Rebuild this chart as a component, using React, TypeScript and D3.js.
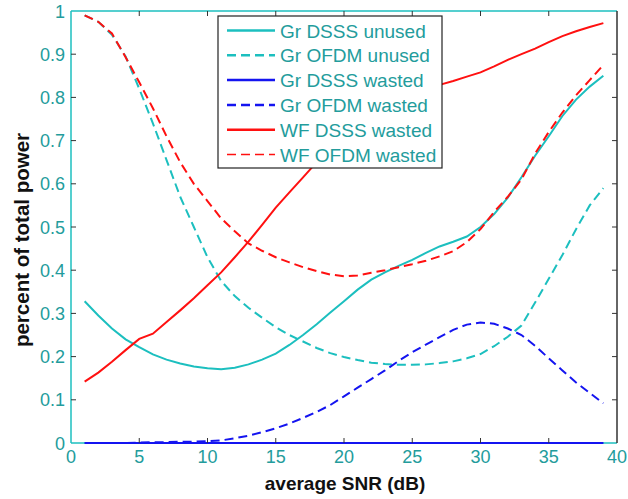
import React from "react";
import * as d3 from "d3";

const snr = d3.range(1, 40); // 1..39 dB
const grDsssUnused = [0.328, 0.295, 0.265, 0.24, 0.222, 0.205, 0.193, 0.184, 0.177, 0.173, 0.171, 0.174, 0.182, 0.193, 0.207, 0.227, 0.25, 0.275, 0.302, 0.328, 0.355, 0.378, 0.395, 0.41, 0.424, 0.44, 0.455, 0.466, 0.478, 0.5, 0.53, 0.568, 0.615, 0.665, 0.71, 0.757, 0.795, 0.825, 0.85];
const grOfdmUnused = [0.99, 0.975, 0.945, 0.895, 0.82, 0.74, 0.655, 0.57, 0.5, 0.43, 0.375, 0.34, 0.313, 0.29, 0.268, 0.25, 0.235, 0.22, 0.208, 0.199, 0.192, 0.186, 0.183, 0.181, 0.181, 0.182, 0.185, 0.189, 0.196, 0.206, 0.224, 0.246, 0.272, 0.325, 0.38, 0.435, 0.495, 0.55, 0.59];
const grDsssWasted = snr.map(() => 0);
const grOfdmWasted = [0, 0, 0, 0, 0.001, 0.002, 0.002, 0.003, 0.003, 0.004, 0.006, 0.011, 0.017, 0.025, 0.034, 0.045, 0.058, 0.072, 0.088, 0.108, 0.128, 0.148, 0.168, 0.19, 0.21, 0.228, 0.245, 0.262, 0.274, 0.279, 0.276, 0.265, 0.25, 0.225, 0.196, 0.168, 0.14, 0.116, 0.092];
const wfDsssWasted = [0.142, 0.163, 0.188, 0.215, 0.241, 0.253, 0.28, 0.307, 0.335, 0.365, 0.395, 0.43, 0.466, 0.505, 0.545, 0.58, 0.615, 0.65, 0.685, 0.715, 0.74, 0.765, 0.785, 0.8, 0.812, 0.822, 0.829, 0.838, 0.848, 0.858, 0.872, 0.887, 0.9, 0.913, 0.928, 0.942, 0.953, 0.963, 0.972];
const wfOfdmWasted = [0.99, 0.975, 0.948, 0.893, 0.835, 0.775, 0.71, 0.65, 0.6, 0.56, 0.52, 0.49, 0.462, 0.445, 0.43, 0.418, 0.407, 0.398, 0.39, 0.386, 0.388, 0.394, 0.4, 0.407, 0.414, 0.422, 0.432, 0.444, 0.465, 0.495, 0.535, 0.57, 0.61, 0.67, 0.72, 0.765, 0.805, 0.84, 0.875];

const seriesNames = ["Gr DSSS unused", "Gr OFDM unused", "Gr DSSS wasted", "Gr OFDM wasted", "WF DSSS wasted", "WF OFDM wasted"];
const xTicks = [0, 5, 10, 15, 20, 25, 30, 35, 40];
const yTicks = [0, 0.1, 0.2, 0.3, 0.4, 0.5, 0.6, 0.7, 0.8, 0.9, 1];
const yTickLabels = ["0", "0.1", "0.2", "0.3", "0.4", "0.5", "0.6", "0.7", "0.8", "0.9", "1"];

const CYAN = "#1cbfbf";
const BLUE = "#1414f0";
const RED = "#ff1010";
const TEXT = "#239c9c";
const DARK = "#333";

export default function App() {
  const W = 628, H = 499;
  const x = d3.scaleLinear().domain([0, 40]).range([71, 617]);
  const y = d3.scaleLinear().domain([0, 1]).range([443, 11]);
  const line = d3.line<[number, number]>().x(d => x(d[0])).y(d => y(d[1]));
  const series = [
    { name: seriesNames[0], vals: grDsssUnused, color: CYAN, dash: null, w: 2 },
    { name: seriesNames[1], vals: grOfdmUnused, color: CYAN, dash: "9,5", w: 2 },
    { name: seriesNames[2], vals: grDsssWasted, color: BLUE, dash: null, w: 2 },
    { name: seriesNames[3], vals: grOfdmWasted, color: BLUE, dash: "9,5", w: 2 },
    { name: seriesNames[4], vals: wfDsssWasted, color: RED, dash: null, w: 2 },
    { name: seriesNames[5], vals: wfOfdmWasted, color: RED, dash: "9,5", w: 2 },
  ];
  const [x0, x1] = x.range();
  const [yb, yt] = y.range();
  const font = "Arial, 'Liberation Sans', sans-serif";
  const legX = 218, legY = 16, legW = 224, legH = 152, rowH = 24.8;
  return (
    <svg width={W} height={H} style={{ position: "absolute", left: 0, top: 0, background: "#fff" }} fontFamily={font}>
      <rect x={0} y={0} width={W} height={H} fill="#fff" />
      {series.map((s, i) => (
        <path key={i} d={line(snr.map((v, j) => [v, s.vals[j]] as [number, number])) || ""}
          fill="none" stroke={s.color} strokeWidth={s.w} strokeDasharray={s.dash || undefined} />
      ))}
      <line x1={x0} y1={yb} x2={x0} y2={yt} stroke={CYAN} strokeWidth={1.5} />
      <line x1={x0} y1={yt} x2={x1} y2={yt} stroke={CYAN} strokeWidth={1.5} />
      <line x1={x0} y1={yb} x2={x1} y2={yb} stroke={CYAN} strokeWidth={1.5} />
      <line x1={x1} y1={yb} x2={x1} y2={yt} stroke={DARK} strokeWidth={1.5} />
      <path d={line(snr.map((v, j) => [v, grDsssWasted[j]] as [number, number])) || ""} fill="none" stroke={BLUE} strokeWidth={2} />
      {xTicks.map((t, i) => (
        <g key={"xt" + i}>
          {t > 0 && t < 40 && <line x1={x(t)} x2={x(t)} y1={yb} y2={yb - 5} stroke={DARK} strokeWidth={1} />}
          {t > 0 && t < 40 && <line x1={x(t)} x2={x(t)} y1={yt} y2={yt + 5} stroke={DARK} strokeWidth={1} />}
          <text x={x(t)} y={463} textAnchor="middle" fontSize={18} fill={TEXT}>{t}</text>
        </g>
      ))}
      {yTicks.map((t, i) => (
        <g key={"yt" + i}>
          {t > 0 && t < 1 && <line x1={x0} x2={x0 + 5} y1={y(t)} y2={y(t)} stroke={DARK} strokeWidth={1} />}
          {t > 0 && t < 1 && <line x1={x1} x2={x1 - 5} y1={y(t)} y2={y(t)} stroke={DARK} strokeWidth={1} />}
          <text x={65} y={y(t) + 6.5} textAnchor="end" fontSize={18} fill={TEXT}>{yTickLabels[i]}</text>
        </g>
      ))}
      <text x={345} y={490} textAnchor="middle" fontSize={19} fontWeight="bold" fill="#111">average SNR (dB)</text>
      <text transform={`translate(29,240) rotate(-90)`} textAnchor="middle" fontSize={20.5} fontWeight="bold" fill="#111">percent of total power</text>
      <rect x={legX} y={legY} width={legW} height={legH} fill="#fff" stroke="#222" strokeWidth={1.2} />
      {series.map((s, i) => {
        const cy = legY + 14.5 + i * rowH;
        return (
          <g key={"lg" + i}>
            <line x1={legX + 9} x2={legX + 57} y1={cy} y2={cy} stroke={s.color}
              strokeWidth={i === 5 ? 1.5 : 2.5} strokeDasharray={s.dash ? "9,5" : undefined} />
            <text x={legX + 62} y={cy + 7} fontSize={19} fill={TEXT}>{s.name}</text>
          </g>
        );
      })}
    </svg>
  );
}
